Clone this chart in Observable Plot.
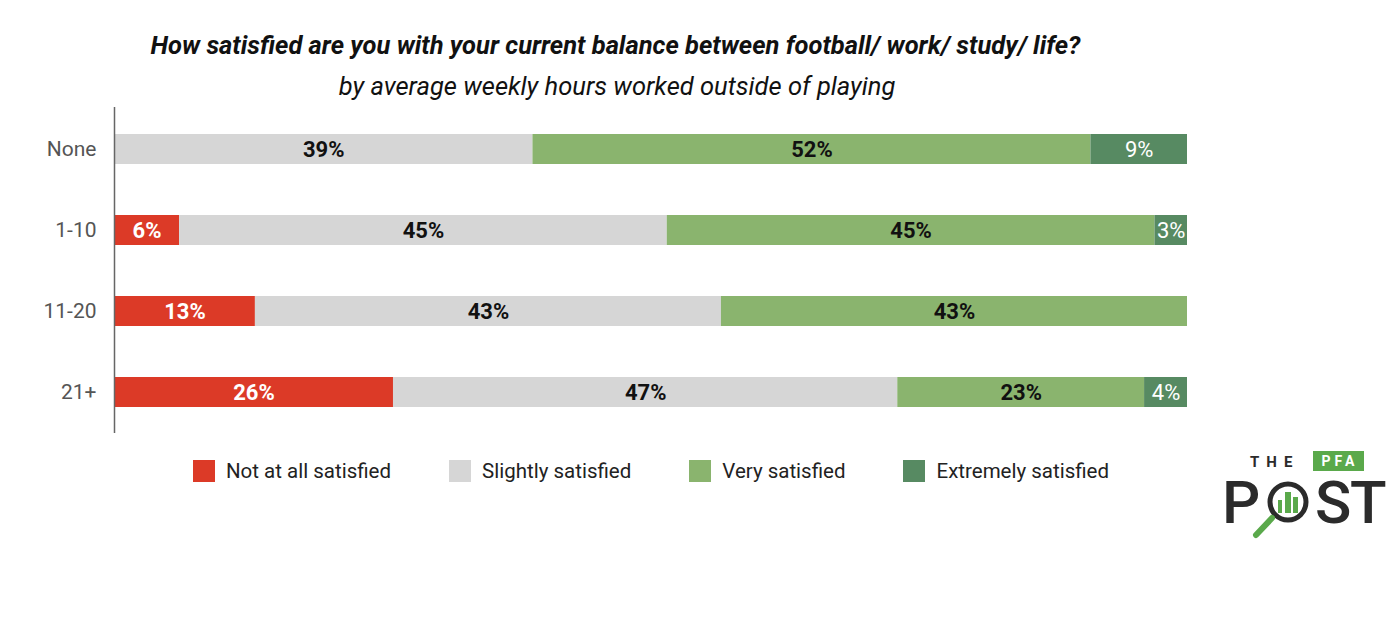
<!DOCTYPE html>
<html>
<head>
<meta charset="utf-8">
<script src="https://cdn.jsdelivr.net/npm/d3@7"></script>
<script src="https://cdn.jsdelivr.net/npm/@observablehq/plot@0.6"></script>
<style>
  html, body { margin: 0; padding: 0; background: #fff; }
  body { width: 1400px; height: 624px; position: relative; font-family: Roboto, "Noto Sans", sans-serif; overflow: hidden; }
  #title { position: absolute; left: 0; width: 1231px; top: 30px; text-align: center; font-size: 25.5px; line-height: 30px; font-weight: 700; font-style: italic; color: #111; white-space: nowrap; }
  #subtitle { position: absolute; left: 0; width: 1234px; top: 71px; text-align: center; font-size: 25.5px; line-height: 30px; font-style: italic; color: #111; white-space: nowrap; }
  #chart { position: absolute; left: 0; top: 100px; }
  #legend { position: absolute; left: 193px; top: 460px; display: flex; gap: 58px; font-size: 20.5px; color: #222; }
  .item { display: flex; align-items: center; gap: 11px; line-height: 22px; }
  .sw { width: 22px; height: 22px; display: inline-block; }
  #logo { position: absolute; left: 1220px; top: 448px; }
</style>
</head>
<body>
<div id="title">How satisfied are you with your current balance between football/ work/ study/ life?</div>
<div id="subtitle">by average weekly hours worked outside of playing</div>
<div id="chart"></div>
<div id="legend"></div>
<svg id="logo" width="180" height="96" viewBox="0 0 180 96">
  <text x="30" y="19" font-family="Roboto, sans-serif" font-weight="700" font-size="15" letter-spacing="7" fill="#2b2b2b">THE</text>
  <rect x="93" y="3" width="51" height="20" fill="#5aa94b"/>
  <text x="120" y="18" text-anchor="middle" font-family="Roboto, sans-serif" font-weight="700" font-size="14" letter-spacing="4" fill="#fff">PFA</text>
  <text x="2" y="75" font-family="Roboto, sans-serif" font-weight="500" font-size="60" fill="#2b2b2b">P</text>
  <circle cx="68" cy="54" r="18" fill="none" stroke="#2b2b2b" stroke-width="5"/>
  <rect x="58" y="52" width="4" height="13" fill="#5aa94b"/>
  <rect x="65" y="44" width="6" height="21" fill="#5aa94b"/>
  <rect x="73" y="49" width="5" height="16" fill="#5aa94b"/>
  <line x1="52" y1="70" x2="36" y2="87" stroke="#5aa94b" stroke-width="6" stroke-linecap="round"/>
  <text x="95" y="75" font-family="Roboto, sans-serif" font-weight="500" font-size="60" fill="#2b2b2b">S</text>
  <text x="130" y="75" font-family="Roboto, sans-serif" font-weight="500" font-size="60" fill="#2b2b2b">T</text>
</svg>
<script>
const groups = ["None", "1-10", "11-20", "21+"];
const categories = ["Not at all satisfied", "Slightly satisfied", "Very satisfied", "Extremely satisfied"];
const colors = ["#dc3a27", "#d6d6d6", "#8ab46e", "#578a62"];
const notAtAll   = [0, 6, 13, 26];
const slightly   = [39, 45, 43, 47];
const very       = [52, 45, 43, 23];
const extremely  = [9, 3, 0, 4];

const series = [notAtAll, slightly, very, extremely];
const data = [];
groups.forEach((g, gi) => {
  categories.forEach((c, ci) => {
    const v = series[ci][gi];
    if (v > 0) data.push({group: g, cat: c, value: v});
  });
});

const stackOpts = (extra) => Plot.stackX({x: "value", y: "group", z: "cat", order: categories, offset: "normalize", ...extra});
const label = (pred) => (d) => pred(d.cat) ? d.value + "%" : null;

const plot = Plot.plot({
  width: 1400,
  height: 340,
  marginTop: 7,
  marginBottom: 7,
  marginLeft: 114,
  marginRight: 213,
  style: {fontFamily: "Roboto, sans-serif", background: "transparent"},
  x: {axis: null, domain: [0, 1]},
  y: {domain: groups, paddingInner: 0.632, paddingOuter: 0.316, label: null},
  color: {domain: categories, range: colors},
  marks: [
    Plot.barX(data, stackOpts({fill: "cat"})),
    Plot.text(data, stackOpts({text: label(c => c === categories[0]), fill: "#fff", fontWeight: "bold", fontSize: 22})),
    Plot.text(data, stackOpts({text: label(c => c === categories[1] || c === categories[2]), fill: "#111", fontWeight: "bold", fontSize: 22})),
    Plot.text(data, stackOpts({text: label(c => c === categories[3]), fill: "#fff", fontWeight: "normal", fontSize: 22})),
    Plot.axisY({tickSize: 0, tickPadding: 18, fontSize: 21, color: "#555", label: null}),
    Plot.ruleX([0], {stroke: "#666", strokeWidth: 1.5})
  ]
});
document.getElementById("chart").appendChild(plot);

const legend = document.getElementById("legend");
categories.forEach((c, i) => {
  const it = document.createElement("div");
  it.className = "item";
  it.innerHTML = `<span class="sw" style="background:${colors[i]}"></span><span>${c}</span>`;
  legend.appendChild(it);
});
</script>
</body>
</html>
